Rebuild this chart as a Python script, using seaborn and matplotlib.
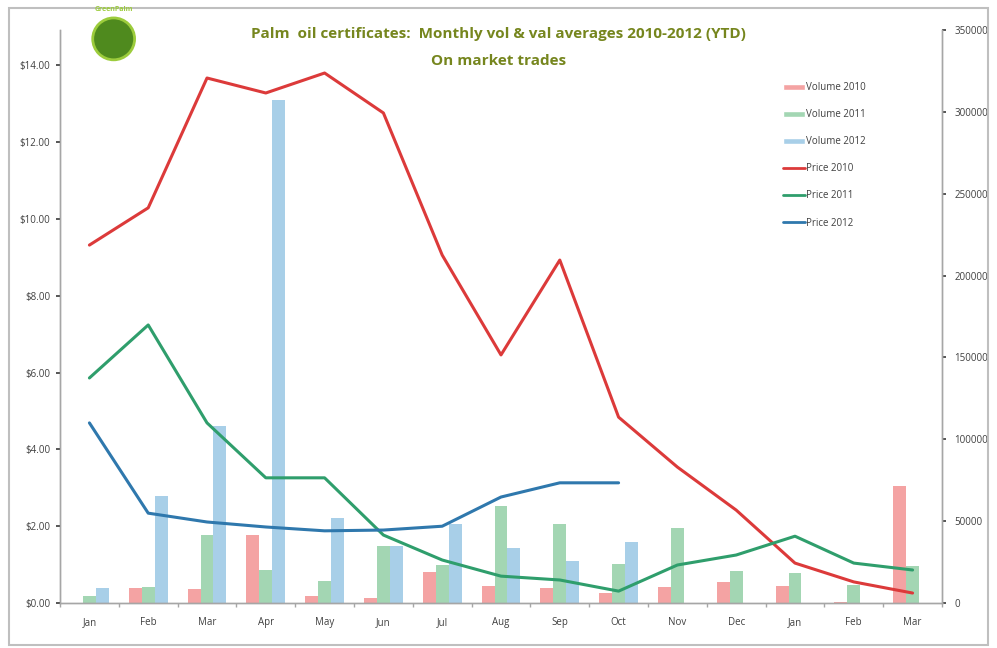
import numpy as np
import pandas as pd
import matplotlib
matplotlib.use("Agg")
import matplotlib.pyplot as plt
import seaborn as sns
from matplotlib.patches import Patch, Ellipse, Rectangle
from matplotlib.lines import Line2D

months = ["Jan", "Feb", "Mar", "Apr", "May", "Jun", "Jul", "Aug",
          "Sep", "Oct", "Nov", "Dec", "Jan", "Feb", "Mar"]

# monthly traded volume (certificates)
vol_2010 = [0, 9300, 8500, 41500, 4200, 3000, 19000, 10300, 9000, 6000,
            9700, 12700, 10300, 600, 71500]
vol_2011 = [4200, 9700, 41500, 20000, 13300, 35000, 23000, 59000, 48500, 23600,
            46000, 19400, 18100, 10900, 22400]
vol_2012 = [9100, 65500, 108000, 307000, 52000, 35000, 48500, 33500, 25400, 37500,
            np.nan, np.nan, np.nan, np.nan, np.nan]

# monthly average price ($)
price_2010 = [9.32, 10.29, 13.67, 13.28, 13.80, 12.76, 9.06, 6.46, 8.93, 4.84,
              3.54, 2.42, 1.04, 0.55, 0.26]
price_2011 = [5.86, 7.24, 4.69, 3.26, 3.26, 1.77, 1.12, 0.70, 0.60, 0.31,
              0.99, 1.25, 1.74, 1.04, 0.86]
price_2012 = [4.69, 2.34, 2.11, 1.98, 1.88, 1.90, 2.00, 2.76, 3.13, 3.13,
              np.nan, np.nan, np.nan, np.nan, np.nan]

bar_colors = {"Volume 2010": "#f4a3a3", "Volume 2011": "#a3d6b3", "Volume 2012": "#a8cfe8"}
line_colors = {"Price 2010": "#dc3a3a", "Price 2011": "#2f9e6c", "Price 2012": "#2f78ad"}

pos = list(range(len(months)))
vol_df = pd.DataFrame({
    "pos": pos * 3,
    "volume": vol_2010 + vol_2011 + vol_2012,
    "series": ["Volume 2010"] * 15 + ["Volume 2011"] * 15 + ["Volume 2012"] * 15,
}).dropna()
price_df = pd.DataFrame({
    "pos": pos * 3,
    "price": price_2010 + price_2011 + price_2012,
    "series": ["Price 2010"] * 15 + ["Price 2011"] * 15 + ["Price 2012"] * 15,
}).dropna()

sns.set_theme(style="white")
plt.rcParams["font.family"] = ["Open Sans", "DejaVu Sans"]

fig = plt.figure(figsize=(9.97, 6.48), dpi=100)
ax = fig.add_axes([0.0602, 0.0694, 0.8846, 0.8843])
ax2 = ax.twinx()

# bars on the right (volume) axis
sns.barplot(data=vol_df, x="pos", y="volume", hue="series", palette=bar_colors,
            hue_order=list(bar_colors), order=pos, width=0.66, gap=0,
            saturation=1, linewidth=0, legend=False, ax=ax2)
ax2.set_ylim(0, 350000)
ax2.set_yticks(range(0, 350001, 50000))
ax2.set_ylabel("")

# price lines on the left axis, drawn above the bars
sns.lineplot(data=price_df, x="pos", y="price", hue="series", palette=line_colors,
             linewidth=2.2, legend=False, ax=ax)
ax.set_zorder(ax2.get_zorder() + 1)
ax.patch.set_visible(False)
ax.set_ylim(0, 14.92)
ax.set_yticks(np.arange(0, 14.1, 2))
ax.set_yticklabels([f"${v:.2f}" for v in np.arange(0, 14.1, 2)])
ax.set_xlim(-0.5, 14.5)
ax.set_xticks(pos)
ax.set_xticklabels(months)
ax.set_xticks(np.arange(-0.5, 14.6, 1), minor=True)
ax.set_xlabel("")
ax.set_ylabel("")

for a in (ax, ax2):
    for s in a.spines.values():
        s.set_color("#a6a6a6")
        s.set_linewidth(1)
    a.spines["top"].set_visible(False)
ax.tick_params(axis="y", labelsize=7, colors="#404040", length=3, left=True, pad=4)
ax.tick_params(axis="x", which="major", labelsize=7, colors="#404040", length=0, pad=10)
ax.tick_params(axis="x", which="minor", length=3, color="#a6a6a6", bottom=True)
ax2.tick_params(axis="y", labelsize=7, colors="#404040", length=3, right=True, pad=6)
for t in ax.get_yticklabels() + ax2.get_yticklabels():
    t.set_color("#404040")

# legend
handles = [Patch(facecolor=c, label=l) for l, c in bar_colors.items()]
handles += [Line2D([], [], color=c, lw=2, label=l) for l, c in line_colors.items()]
leg = ax.legend(handles=handles, loc="upper left", bbox_to_anchor=(0.81, 0.924),
                frameon=False, fontsize=7, handlelength=2.2, handleheight=0.6,
                handletextpad=0.1, labelspacing=1.65)
for t in leg.get_texts():
    t.set_color("#404040")

# titles
fig.text(0.5, 0.948, "Palm  oil certificates:  Monthly vol & val averages 2010-2012 (YTD)",
         ha="center", va="center", fontsize=11, fontweight="bold", color="#76861e")
fig.text(0.5, 0.906, "On market trades", ha="center", va="center",
         fontsize=11, fontweight="bold", color="#76861e")

# logo badge
fig.patches.append(Ellipse((0.114, 0.94), 0.042, 0.042 * 997 / 648,
                           transform=fig.transFigure, facecolor="#4f8a1e",
                           edgecolor="#9ccc3c", lw=2))
fig.text(0.114, 0.99, "GreenPalm", ha="center", va="top", fontsize=5,
         color="#9ccc3c", fontweight="bold")

# outer frame
fig.patches.append(Rectangle((0.009, 0.005), 0.982, 0.983, transform=fig.transFigure,
                             fill=False, edgecolor="#bfbfbf", lw=1.5))

fig.savefig("out.png", dpi=100)
